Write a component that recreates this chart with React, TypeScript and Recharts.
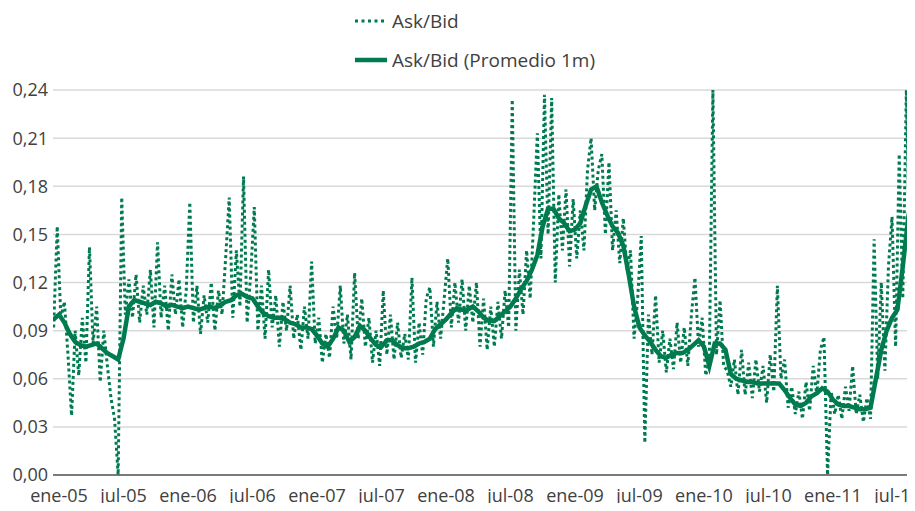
import { CartesianGrid, Legend, Line, LineChart, XAxis, YAxis } from "recharts";

const GREEN = "#007B4F";

// months counted from ene-05 (0 = enero 2005)
const askBidStart = -0.5;
const askBidStep = 1 / 3;
const askBid = [
  0.092, 0.155, 0.098, 0.108, 0.075, 0.037, 0.09, 0.062, 0.098, 0.07,
  0.142, 0.082, 0.105, 0.058, 0.09, 0.068, 0.048, 0.035, 0.0, 0.173,
  0.1, 0.122, 0.098, 0.125, 0.095, 0.118, 0.1, 0.128, 0.092, 0.145,
  0.098, 0.118, 0.09, 0.125, 0.1, 0.122, 0.092, 0.115, 0.17, 0.095,
  0.118, 0.088, 0.112, 0.095, 0.12, 0.09, 0.115, 0.1, 0.135, 0.173,
  0.098, 0.14, 0.105, 0.186, 0.095, 0.125, 0.167, 0.09, 0.118, 0.085,
  0.128, 0.092, 0.112, 0.08, 0.108, 0.09, 0.118, 0.085, 0.1, 0.078,
  0.105, 0.085, 0.133, 0.082, 0.098, 0.07, 0.088, 0.073, 0.105, 0.085,
  0.118, 0.082, 0.1, 0.072, 0.126, 0.085, 0.11, 0.08, 0.098, 0.07,
  0.09, 0.068, 0.115, 0.075, 0.1, 0.072, 0.095, 0.073, 0.088, 0.072,
  0.123, 0.07, 0.095, 0.075, 0.11, 0.117, 0.08, 0.108, 0.085, 0.11,
  0.135, 0.092, 0.12, 0.095, 0.122, 0.09, 0.118, 0.095, 0.12, 0.08,
  0.11, 0.078, 0.105, 0.08, 0.108, 0.085, 0.115, 0.092, 0.234, 0.09,
  0.128, 0.1, 0.14, 0.11, 0.16, 0.213, 0.135, 0.237, 0.15, 0.235,
  0.12, 0.175, 0.14, 0.178, 0.13, 0.172, 0.135, 0.165, 0.14, 0.19,
  0.21, 0.165, 0.19, 0.2, 0.15, 0.195, 0.14, 0.165, 0.132, 0.16,
  0.128, 0.14, 0.085, 0.11, 0.149, 0.02, 0.1, 0.075, 0.112, 0.07,
  0.09, 0.064, 0.085, 0.066, 0.095, 0.07, 0.092, 0.068, 0.1, 0.123,
  0.08, 0.098, 0.062, 0.072, 0.24, 0.075, 0.109, 0.068, 0.065, 0.055,
  0.072, 0.05, 0.078, 0.05, 0.07, 0.048, 0.072, 0.052, 0.068, 0.045,
  0.075, 0.052, 0.118, 0.06, 0.072, 0.042, 0.055, 0.038, 0.052, 0.035,
  0.058, 0.04, 0.068, 0.05, 0.078, 0.086, 0.0, 0.052, 0.038, 0.05,
  0.035, 0.055, 0.04, 0.068, 0.038, 0.05, 0.033, 0.048, 0.035, 0.147,
  0.06, 0.12, 0.065, 0.13, 0.161, 0.08, 0.2, 0.11, 0.24, 0.13,
  0.22,
];

const avgStart = -0.5;
const avgStep = 0.5;
const askBidAvg = [
  0.097, 0.1, 0.095, 0.088, 0.083, 0.081, 0.08, 0.081, 0.082, 0.079,
  0.076, 0.074, 0.072, 0.085, 0.105, 0.109, 0.108, 0.107, 0.106, 0.108,
  0.107, 0.105, 0.106, 0.105, 0.104, 0.105, 0.104, 0.103, 0.104, 0.105,
  0.104, 0.106, 0.108, 0.109, 0.112, 0.113, 0.111, 0.11, 0.105, 0.101,
  0.099, 0.098, 0.098, 0.097, 0.095, 0.094, 0.092, 0.092, 0.091, 0.087,
  0.082, 0.08, 0.085, 0.092, 0.09, 0.083, 0.086, 0.093, 0.09, 0.085,
  0.081, 0.08, 0.084, 0.084, 0.081, 0.079, 0.079, 0.08, 0.082, 0.083,
  0.085, 0.091, 0.094, 0.097, 0.101, 0.104, 0.103, 0.103, 0.105, 0.102,
  0.098, 0.096, 0.096, 0.099, 0.102, 0.105, 0.11, 0.116, 0.121, 0.128,
  0.137, 0.155, 0.166, 0.166, 0.16, 0.157, 0.152, 0.153, 0.157, 0.168,
  0.178, 0.18, 0.17, 0.162, 0.155, 0.151, 0.143, 0.125, 0.105, 0.092,
  0.087, 0.083, 0.078, 0.074, 0.073, 0.075, 0.076, 0.076, 0.078, 0.081,
  0.084, 0.08, 0.068, 0.082, 0.082, 0.078, 0.063, 0.06, 0.059, 0.058,
  0.058, 0.057, 0.057, 0.057, 0.057, 0.057, 0.053, 0.048, 0.044, 0.043,
  0.045, 0.049, 0.051, 0.054, 0.052, 0.047, 0.044, 0.043, 0.043, 0.042,
  0.041, 0.041, 0.042, 0.06, 0.078, 0.09, 0.098, 0.103, 0.13, 0.16,
  0.182,
];

const xTicks = [0, 6, 12, 18, 24, 30, 36, 42, 48, 54, 60, 66, 72, 78];
const xTickLabels = [
  "ene-05", "jul-05", "ene-06", "jul-06", "ene-07", "jul-07", "ene-08",
  "jul-08", "ene-09", "jul-09", "ene-10", "jul-10", "ene-11", "jul-11",
];
const yTicks = [0, 0.03, 0.06, 0.09, 0.12, 0.15, 0.18, 0.21, 0.24];

const dailyData = askBid.map((v, i) => ({ t: askBidStart + i * askBidStep, v }));
const avgData = askBidAvg.map((v, i) => ({ t: avgStart + i * avgStep, v }));

const FONT = "'Open Sans', 'Noto Sans', sans-serif";

const LegendBox = () => (
  <div style={{ position: "absolute", left: 355, top: 1, fontFamily: FONT, fontSize: 19, color: "#404040" }}>
    <div style={{ display: "flex", alignItems: "center", height: 39 }}>
      <svg width={32} height={6}>
        <line x1={0} y1={3} x2={32} y2={3} stroke={GREEN} strokeWidth={3} strokeDasharray="3 3.5" />
      </svg>
      <span style={{ marginLeft: 5 }}>Ask/Bid</span>
    </div>
    <div style={{ display: "flex", alignItems: "center", height: 39 }}>
      <svg width={32} height={6}>
        <line x1={0} y1={3} x2={32} y2={3} stroke={GREEN} strokeWidth={4.5} />
      </svg>
      <span style={{ marginLeft: 5 }}>Ask/Bid (Promedio 1m)</span>
    </div>
  </div>
);

export default function App() {
  return (
    <div style={{ margin: -8, width: 915, height: 511, position: "relative", background: "#fff" }}>
      <LineChart width={915} height={511} margin={{ top: 90, right: 2, bottom: 0, left: 0 }}>
        <CartesianGrid vertical={false} stroke="#d9d9d9" strokeWidth={1.5} />
        <XAxis
          type="number"
          dataKey="t"
          domain={[-0.56, 79.45]}
          allowDataOverflow
          ticks={xTicks}
          interval={0}
          tickFormatter={(v: number) => xTickLabels[xTicks.indexOf(v)] ?? ""}
          tick={{ fontSize: 18, fill: "#404040", fontFamily: FONT }}
          tickLine={false}
          tickSize={0}
          tickMargin={14}
          axisLine={{ stroke: "#595959", strokeWidth: 1.5 }}
          height={36}
        />
        <YAxis
          type="number"
          domain={[0, 0.24]}
          ticks={yTicks}
          interval={0}
          tickFormatter={(v: number) => v.toFixed(2).replace(".", ",")}
          tick={{ fontSize: 18, fill: "#404040", fontFamily: FONT }}
          tickLine={false}
          tickSize={0}
          tickMargin={5}
          axisLine={false}
          width={53}
        />
        <Legend content={<LegendBox />} wrapperStyle={{ position: "absolute", top: 0, left: 0, width: 915 }} />
        <Line
          data={dailyData}
          dataKey="v"
          name="Ask/Bid"
          stroke={GREEN}
          strokeWidth={3}
          strokeDasharray="3 3"
          dot={false}
          activeDot={false}
          isAnimationActive={false}
        />
        <Line
          data={avgData}
          dataKey="v"
          name="Ask/Bid (Promedio 1m)"
          stroke={GREEN}
          strokeWidth={4.5}
          dot={false}
          activeDot={false}
          isAnimationActive={false}
        />
      </LineChart>
    </div>
  );
}
